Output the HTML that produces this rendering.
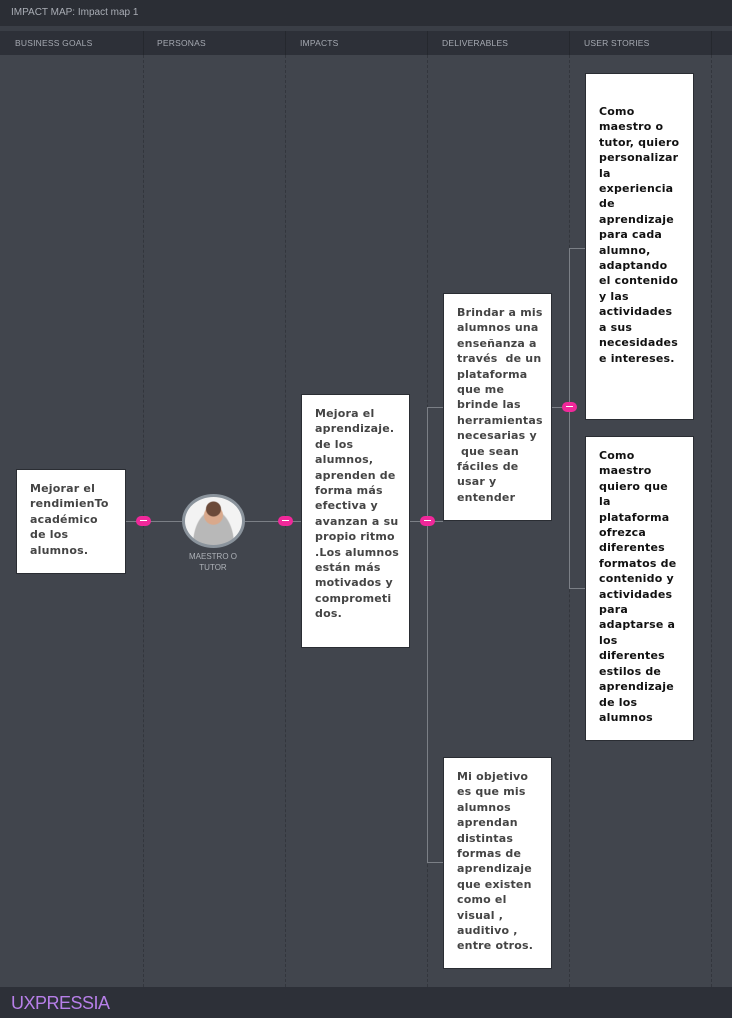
<!DOCTYPE html>
<html><head><meta charset="utf-8"><style>
*{margin:0;padding:0;box-sizing:border-box}
body{width:732px;height:1018px;background:#41454d;position:relative;overflow:hidden;font-family:"Liberation Sans",sans-serif}
.top{position:absolute;left:0;top:0;width:732px;height:26px;background:#2b2e35;color:#a9adb5;font-size:10px;line-height:26px;padding-left:11px}
.stripe{position:absolute;left:0;top:26px;width:732px;height:5px;background:#3a3e46}
.hdr{position:absolute;left:0;top:31px;width:732px;height:24px;background:#2d3038}
.hdr span{position:absolute;top:0;line-height:24px;font-size:8.5px;color:#a6aab2;letter-spacing:.2px}
.hsep{position:absolute;top:31px;height:24px;width:1px;background:#25282e}
.vd{position:absolute;top:55px;height:932px;width:0;border-left:1px dashed #33363d}
.foot{position:absolute;left:0;top:987px;width:732px;height:31px;background:#2d3038}
.foot span{position:absolute;left:11px;top:6px;font-size:18px;color:#b77fe8;letter-spacing:-.5px}
.box{position:absolute;background:#fff;border:1px solid #2a2d33;padding:11px 0 0 13px;font-family:"DejaVu Sans","Liberation Sans",sans-serif;font-weight:bold;font-size:11px;line-height:15.4px;letter-spacing:.2px;color:#444;white-space:nowrap}
.box.s{color:#111}
.ln{position:absolute;background:#7b7f86}
.pill{position:absolute;width:15px;height:10px;border-radius:5px;background:#f0289a}
.pill:after{content:"";position:absolute;left:4px;top:4px;width:7px;height:1px;background:#fff}
</style></head><body>
<div class="top">IMPACT MAP: Impact map 1</div>
<div class="stripe"></div>
<div class="hdr">
<span style="left:15px">BUSINESS GOALS</span><span style="left:157px">PERSONAS</span><span style="left:300px">IMPACTS</span><span style="left:442px">DELIVERABLES</span><span style="left:584px">USER STORIES</span>
</div>
<div class="hsep" style="left:143px"></div><div class="hsep" style="left:285px"></div><div class="hsep" style="left:427px"></div><div class="hsep" style="left:569px"></div><div class="hsep" style="left:711px"></div>
<div class="vd" style="left:143px"></div><div class="vd" style="left:285px"></div><div class="vd" style="left:427px"></div><div class="vd" style="left:569px"></div><div class="vd" style="left:711px"></div>

<div class="ln" style="left:126px;top:521px;width:56px;height:1px"></div>
<div class="ln" style="left:245px;top:521px;width:56px;height:1px"></div>
<div class="ln" style="left:410px;top:521px;width:33px;height:1px"></div>
<div class="ln" style="left:427px;top:407px;width:1px;height:456px"></div>
<div class="ln" style="left:427px;top:407px;width:16px;height:1px"></div>
<div class="ln" style="left:427px;top:862px;width:16px;height:1px"></div>
<div class="ln" style="left:552px;top:407px;width:17px;height:1px"></div>
<div class="ln" style="left:569px;top:248px;width:1px;height:341px"></div>
<div class="ln" style="left:569px;top:248px;width:16px;height:1px"></div>
<div class="ln" style="left:569px;top:588px;width:16px;height:1px"></div>

<div class="box" style="left:16px;top:469px;width:110px;height:105px">Mejorar el<br>rendimienTo<br>académico<br>de los<br>alumnos.</div>

<div style="position:absolute;left:182px;top:494px;width:63px;height:54px;border-radius:50%;border:3px solid #8a939c;background:radial-gradient(circle at 50% 25%,#6b4a3a 0 7px,transparent 8px),radial-gradient(circle at 50% 38%,#d9a98c 0 9px,transparent 10px),radial-gradient(ellipse at 50% 100%,#b8b8b8 0 20px,transparent 21px),#f3f3f3"></div>
<div style="position:absolute;left:173px;top:551px;width:80px;text-align:center;font-size:8px;line-height:11px;color:#aeb2b8">MAESTRO O<br>TUTOR</div>

<div class="box" style="left:301px;top:394px;width:109px;height:254px">Mejora el<br>aprendizaje.<br>de los<br>alumnos,<br>aprenden de<br>forma más<br>efectiva y<br>avanzan a su<br>propio ritmo<br>.Los alumnos<br>están más<br>motivados y<br>comprometi<br>dos.</div>

<div class="box" style="left:443px;top:293px;width:109px;height:228px">Brindar a mis<br>alumnos una<br>enseñanza a<br>través&nbsp; de un<br>plataforma<br>que me<br>brinde las<br>herramientas<br>necesarias y<br>&nbsp;que sean<br>fáciles de<br>usar y<br>entender</div>

<div class="box" style="left:443px;top:757px;width:109px;height:212px">Mi objetivo<br>es que mis<br>alumnos<br>aprendan<br>distintas<br>formas de<br>aprendizaje<br>que existen<br>como el<br>visual ,<br>auditivo ,<br>entre otros.</div>

<div class="box s" style="left:585px;top:73px;width:109px;height:347px;padding-top:30px">Como<br>maestro o<br>tutor, quiero<br>personalizar<br>la<br>experiencia<br>de<br>aprendizaje<br>para cada<br>alumno,<br>adaptando<br>el contenido<br>y las<br>actividades<br>a sus<br>necesidades<br>e intereses.</div>

<div class="box s" style="left:585px;top:436px;width:109px;height:305px">Como<br>maestro<br>quiero que<br>la<br>plataforma<br>ofrezca<br>diferentes<br>formatos de<br>contenido y<br>actividades<br>para<br>adaptarse a<br>los<br>diferentes<br>estilos de<br>aprendizaje<br>de los<br>alumnos</div>

<div class="pill" style="left:136px;top:516px"></div>
<div class="pill" style="left:278px;top:516px"></div>
<div class="pill" style="left:420px;top:516px"></div>
<div class="pill" style="left:562px;top:402px"></div>

<div class="foot"><span>UXPRESSIA</span></div>
</body></html>
